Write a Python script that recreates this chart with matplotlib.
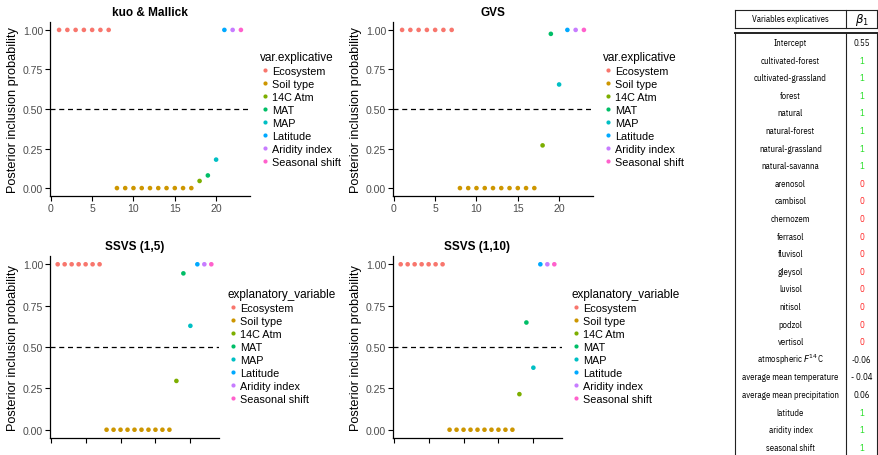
import numpy as np
import matplotlib
matplotlib.use("Agg")
import matplotlib.pyplot as plt
from matplotlib.lines import Line2D

plt.rcParams['font.family'] = ['Liberation Sans', 'DejaVu Sans']

# ---- data ----
groups = ['Ecosystem', 'Soil type', '14C Atm', 'MAT', 'MAP',
          'Latitude', 'Aridity index', 'Seasonal shift']
colors = ['#F8766D', '#CD9600', '#7CAE00', '#00BE67',
          '#00BFC4', '#00A9FF', '#C77CFF', '#FF61CC']
group_of_var = [0] * 7 + [1] * 10 + [2, 3, 4, 5, 6, 7]
var_index = np.arange(1, 24)

pip_kuo = [1, 1, 1, 1, 1, 1, 1] + [0] * 10 + [0.045, 0.08, 0.18, 1, 1, 1]
pip_gvs = [1, 1, 1, 1, 1, 1, 1] + [0] * 10 + [0.27, 0.975, 0.655, 1, 1, 1]
pip_ssvs5 = [1, 1, 1, 1, 1, 1, 1] + [0] * 10 + [0.295, 0.945, 0.628, 1, 1, 1]
pip_ssvs10 = [1, 1, 1, 1, 1, 1, 1] + [0] * 10 + [0.215, 0.648, 0.375, 1, 1, 1]

table_vars = ['Intercept', 'cultivated-forest', 'cultivated-grassland', 'forest',
              'natural', 'natural-forest', 'natural-grassland', 'natural-savanna',
              'arenosol', 'cambisol', 'chernozem', 'ferrasol', 'fluvisol',
              'gleysol', 'luvisol', 'nitisol', 'podzol', 'vertisol',
              r'atmospheric $F^{14}$C', 'average mean temperature',
              'average mean precipitation', 'latitude', 'aridity index',
              'seasonal shift']
table_beta = ['0.55', '1', '1', '1', '1', '1', '1', '1',
              '0', '0', '0', '0', '0', '0', '0', '0', '0', '0',
              '-0.06', '- 0.04', '0.06', '1', '1', '1']

W, H = 879, 456
fig = plt.figure(figsize=(W / 100, H / 100), dpi=100)


def px_axes(left, top, right, bottom):
    return fig.add_axes([left / W, 1 - bottom / H, (right - left) / W, (bottom - top) / H])


def panel(box, title, pip, legend_title, leg_xy, show_xlabels):
    ax = px_axes(*box)
    cols = [colors[g] for g in group_of_var]
    ax.scatter(var_index, pip, c=cols, s=11, linewidths=0, zorder=3)
    ax.axhline(0.5, color='black', lw=0.9, ls=(0, (4, 3)))
    ax.set_xlim(-0.1, 24.1)
    ax.set_ylim(-0.05, 1.05)
    ax.set_xticks([0, 5, 10, 15, 20])
    ax.set_yticks([0, 0.25, 0.5, 0.75, 1.0])
    ax.set_yticklabels(['0.00', '0.25', '0.50', '0.75', '1.00'])
    if not show_xlabels:
        ax.set_xticklabels([])
    for s in ['top', 'right']:
        ax.spines[s].set_visible(False)
    for s in ['left', 'bottom']:
        ax.spines[s].set_linewidth(0.9)
    ax.tick_params(length=3.5, width=0.8, labelsize=7.6, labelcolor='#4D4D4D', pad=1.5)
    ax.set_ylabel('Posterior inclusion probability', fontsize=9.2, labelpad=3)
    ax.set_title(title, fontsize=8.5, fontweight='bold', pad=5)
    handles = [Line2D([], [], ls='', marker='o', ms=3.0, mec='none', mfc=c) for c in colors]
    ax.legend(handles, groups, title=legend_title, loc='upper left',
              bbox_to_anchor=(leg_xy[0] / W, 1 - leg_xy[1] / H),
              bbox_transform=fig.transFigure, frameon=False, fontsize=7.8,
              title_fontsize=8.5, alignment='left', handlelength=1.0,
              handletextpad=0.15, labelspacing=0.28, borderpad=0, borderaxespad=0)
    return ax


panel((50, 23, 250, 197), 'kuo & Mallick', pip_kuo, 'var.explicative', (260, 52), True)
panel((393, 23, 593, 197), 'GVS', pip_gvs, 'var.explicative', (603, 52), True)
panel((50, 257, 219, 439), 'SSVS (1,5)', pip_ssvs5, 'explanatory_variable', (228, 289), False)
panel((393, 257, 562, 439), 'SSVS (1,10)', pip_ssvs10, 'explanatory_variable', (571, 289), False)

# ---- table ----
tax = fig.add_axes([0, 0, 1, 1])
tax.set_xlim(0, W)
tax.set_ylim(H, 0)
tax.axis('off')
x0, xd, x1 = 735, 846, 877
lc = '#222222'
tax.plot([x0, x1], [11, 11], color=lc, lw=0.8)
tax.plot([x0, x1], [29, 29], color=lc, lw=0.8)
tax.plot([x0, x1], [34, 34], color=lc, lw=1.4)
tax.plot([x0, x0], [11, 29], color=lc, lw=0.8)
tax.plot([x1, x1], [11, 29], color=lc, lw=0.8)
tax.plot([x0, x0], [34, H], color=lc, lw=0.8)
tax.plot([x1, x1], [34, H], color=lc, lw=0.8)
tax.plot([xd, xd], [11, 29], color=lc, lw=0.8)
tax.plot([xd, xd], [34, H], color=lc, lw=0.8)

tfont = dict(family=['IBM Plex Sans Condensed', 'DejaVu Sans'], fontsize=6.3)
tax.text((x0 + xd) / 2, 20, 'Variables explicatives', ha='center', va='center', **tfont)
tax.text((xd + x1) / 2, 20, r'$\beta_1$', ha='center', va='center', fontsize=8.5)

for i, (name, val) in enumerate(zip(table_vars, table_beta)):
    y = 43.5 + i * 17.6
    tax.text((x0 + xd) / 2, y, name, ha='center', va='center', **tfont)
    if val == '1':
        vc = '#22DD22'
    elif val == '0':
        vc = '#FF2020'
    else:
        vc = 'black'
    tax.text((xd + x1) / 2, y, val, ha='center', va='center', color=vc, **tfont)

fig.savefig('out.png', dpi=100)
